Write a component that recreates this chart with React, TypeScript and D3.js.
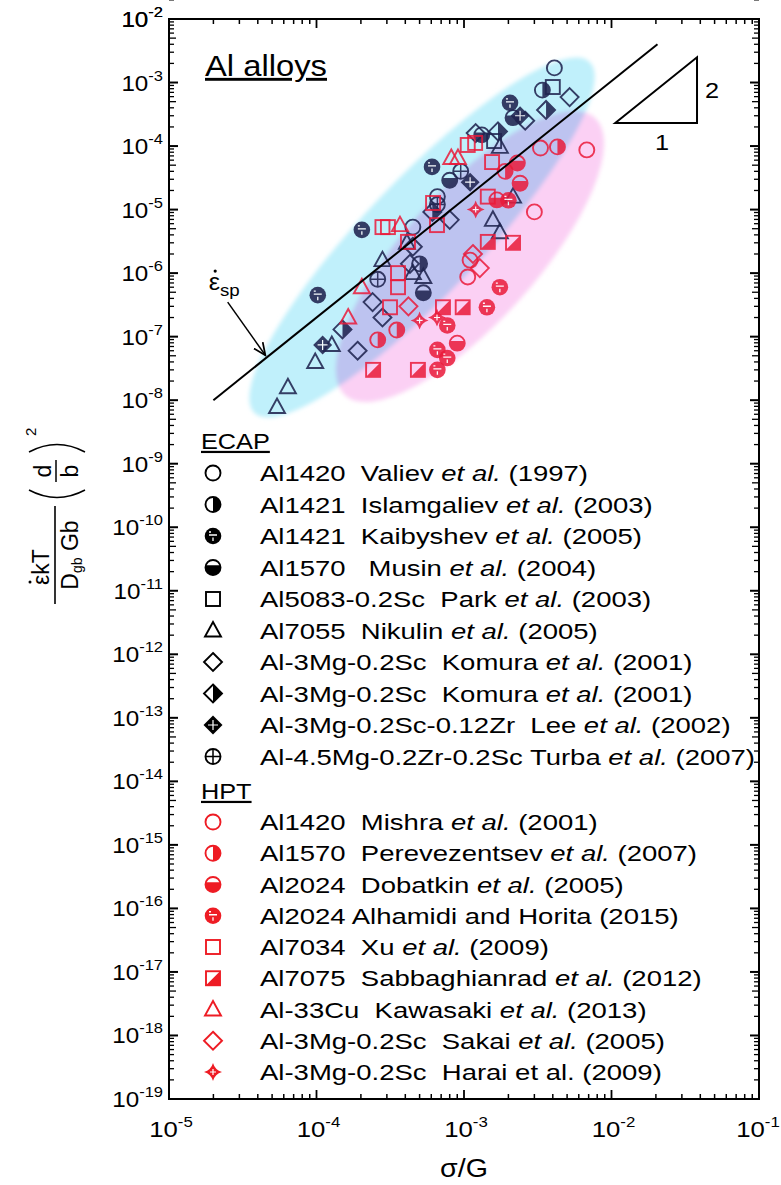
import React from 'react';
import * as d3 from 'd3';

// axis ranges
const xDomain = [1e-5, 1e-1];
const yDomain = [1e-19, 1e-2];
const xExponents = [-5, -4, -3, -2, -1];
const yExponents = d3.range(-19, -1);

// ECAP series (black)
const valiev = [[4.1e-3, 1.7e-3], [6.6e-4, 1.6e-5], [4.5e-4, 5.3e-6]];
const islamgaliev = [[3.4e-3, 7.6e-4], [5.0e-4, 1.4e-6]];
const kaibyshev = [[1.02e-4, 4.5e-7], [2.03e-4, 4.8e-6], [6.07e-4, 4.7e-5], [2.05e-3, 4.8e-4]];
const musin = [[8.0e-4, 2.9e-5], [1.32e-3, 1.5e-4], [2.15e-3, 2.8e-4], [5.3e-4, 4.9e-7]];
const park = [[4.0e-3, 8.5e-4], [1.6e-3, 1.2e-4]];
const nikulin = [[5.4e-5, 7.8e-9], [6.4e-5, 1.6e-8], [9.8e-5, 4.0e-8], [1.27e-4, 7.4e-8], [5.3e-4, 8.7e-7],
  [2.15e-3, 1.6e-5], [1.57e-3, 6.9e-6], [1.75e-3, 4.4e-6], [2.8e-4, 1.6e-6], [4.1e-4, 3.0e-6],
  [1.75e-3, 9.7e-5], [4.5e-4, 1.0e-6]];
const komura = [[5.2e-3, 5.9e-4], [1.9e-4, 6.0e-8], [2.8e-4, 2.0e-7], [2.4e-4, 3.5e-7], [4.3e-4, 1.4e-6],
  [4.5e-4, 2.6e-6], [8.0e-4, 6.9e-6], [1.2e-3, 1.6e-4], [2.6e-3, 2.5e-4]];
const komura2 = [[3.6e-3, 3.7e-4], [1.5e-4, 1.3e-7], [6.1e-4, 9.2e-6], [1.7e-3, 1.7e-4]];
const lee = [[1.1e-4, 7.4e-8], [1.1e-3, 2.7e-5], [2.4e-3, 3.0e-4]];
const turba = [[6.6e-4, 1.2e-5], [2.6e-4, 8.0e-7], [9.5e-4, 4.0e-5]];

// HPT series (red)
const mishra = [[6.8e-3, 8.7e-5], [3.0e-3, 9.2e-6], [3.3e-3, 9.3e-5], [1.1e-3, 1.6e-6], [1.06e-3, 8.7e-7]];
const perevezentsev = [[4.3e-3, 9.7e-5], [2.6e-4, 8.9e-8], [3.5e-4, 1.27e-7], [1.9e-3, 4.0e-5]];
const dobatkin = [[2.4e-3, 2.6e-5], [1.67e-3, 1.42e-5], [9.0e-4, 7.9e-8], [2.3e-3, 5.4e-5]];
const alhamidi = [[1.75e-3, 6.0e-7], [1.43e-3, 2.9e-7], [7.7e-4, 1.5e-7], [6.6e-4, 6.2e-8], [6.6e-4, 3.0e-8],
  [7.7e-4, 4.6e-8], [2.0e-3, 1.4e-5]];
const xu = [[1.55e-3, 5.6e-5], [3.05e-4, 5.3e-6], [6.56e-4, 5.7e-6], [4.17e-4, 3.1e-6], [3.57e-4, 1.0e-6],
  [3.57e-4, 6.0e-7], [3.15e-4, 2.9e-7], [1.19e-3, 1.12e-4], [1.06e-3, 1.04e-4], [6.17e-4, 1.27e-5],
  [2.8e-4, 5.3e-6], [1.45e-3, 1.6e-5]];
const sabbaghianrad = [[1.45e-3, 3.1e-6], [2.15e-3, 3.0e-6], [7.2e-4, 2.9e-7], [9.8e-4, 2.9e-7],
  [2.42e-4, 3.0e-8], [4.87e-4, 3.0e-8]];
const kawasaki = [[9.1e-4, 6.5e-5], [8.2e-4, 6.5e-5], [3.68e-4, 5.7e-6], [2.03e-4, 6.0e-7], [1.64e-4, 2.0e-7]];
const sakai = [[1.28e-3, 1.2e-6], [1.15e-3, 2.0e-6], [4.2e-4, 3.0e-7]];
const harai = [[6.56e-4, 2.0e-7], [5.0e-4, 1.8e-7], [1.2e-3, 1.0e-5]];

// legend text: [before italic, italic, after]
const ecapLabels = [
  ['Al1420  Valiev ', 'et al.', ' (1997)'],
  ['Al1421  Islamgaliev ', 'et al.', ' (2003)'],
  ['Al1421  Kaibyshev ', 'et al.', ' (2005)'],
  ['Al1570   Musin ', 'et al.', ' (2004)'],
  ['Al5083-0.2Sc  Park ', 'et al.', ' (2003)'],
  ['Al7055  Nikulin ', 'et al.', ' (2005)'],
  ['Al-3Mg-0.2Sc  Komura ', 'et al.', ' (2001)'],
  ['Al-3Mg-0.2Sc  Komura ', 'et al.', ' (2001)'],
  ['Al-3Mg-0.2Sc-0.12Zr  Lee ', 'et al.', ' (2002)'],
  ['Al-4.5Mg-0.2Zr-0.2Sc Turba ', 'et al.', ' (2007)'],
];
const hptLabels = [
  ['Al1420  Mishra ', 'et al.', ' (2001)'],
  ['Al1570  Perevezentsev ', 'et al.', ' (2007)'],
  ['Al2024  Dobatkin ', 'et al.', ' (2005)'],
  ['Al2024 Alhamidi and Horita (2015)', '', ''],
  ['Al7034  Xu ', 'et al.', ' (2009)'],
  ['Al7075  Sabbaghianrad ', 'et al.', ' (2012)'],
  ['Al-33Cu  Kawasaki ', 'et al.', ' (2013)'],
  ['Al-3Mg-0.2Sc  Sakai ', 'et al.', ' (2005)'],
  ['Al-3Mg-0.2Sc  Harai et al. (2009)', '', ''],
];
const ecapKinds = ['circle', 'halfR', 'ball', 'bottom', 'square', 'triangle', 'diamond', 'halfDiamond', 'crossDiamond', 'crossCircle'];
const hptKinds = ['circle', 'halfR', 'bottom', 'ball', 'square', 'diagSquare', 'triangle', 'diamond', 'star'];
const ecapData = [valiev, islamgaliev, kaibyshev, musin, park, nikulin, komura, komura2, lee, turba];
const hptData = [mishra, perevezentsev, dobatkin, alhamidi, xu, sabbaghianrad, kawasaki, sakai, harai];

// guide line, slope triangle and shaded regions (data units)
const spLine = [[2e-5, 1e-8], [2.05e-2, 4e-3]];
const slopeTri = [[1.06e-2, 2.3e-4], [3.8e-2, 2.5e-3], [3.8e-2, 2.3e-4]];
const cyanAxis = [[3.8e-5, 6.3e-9], [7.1e-3, 2.1e-3]];
const pinkAxis = [[1.56e-4, 1.2e-8], [7.7e-3, 2.8e-4]];
const arrowPts = [[2.5e-5, 3.5e-7], [4.5e-5, 5.1e-8]];

const BLACK = '#000';
const RED = '#ee1c24';
const FONT = 'Arial, "Liberation Sans", sans-serif';

function Marker({kind, cx, cy, color, opacity = 1}) {
  const r = 7.5, sw = 1.9, s = 7, d = 9;
  const common = {stroke: color, strokeWidth: sw, fill: 'none'};
  let el;
  if (kind === 'circle') {
    el = <circle cx={cx} cy={cy} r={r} {...common}/>;
  } else if (kind === 'halfR') {
    el = <g>
      <path d={`M${cx},${cy - r} A${r},${r} 0 0 1 ${cx},${cy + r} Z`} fill={color}/>
      <circle cx={cx} cy={cy} r={r} {...common}/>
    </g>;
  } else if (kind === 'ball') {
    el = <g>
      <circle cx={cx} cy={cy} r={r + 0.8} fill={color}/>
      <path d={`M${cx - 4},${cy - 1} L${cx + 4},${cy - 1} M${cx},${cy + 1.5} L${cx},${cy + 5} M${cx - 4},${cy - 4} L${cx - 2},${cy - 4}`}
            stroke="#fff" strokeWidth={1.3}/>
    </g>;
  } else if (kind === 'bottom') {
    const h = 0.3 * r, w = Math.sqrt(r * r - h * h);
    el = <g>
      <path d={`M${cx - w},${cy - h} A${r},${r} 0 1 0 ${cx + w},${cy - h} Z`} fill={color}/>
      <circle cx={cx} cy={cy} r={r} {...common}/>
    </g>;
  } else if (kind === 'square') {
    el = <rect x={cx - s} y={cy - s} width={2 * s} height={2 * s} {...common}/>;
  } else if (kind === 'diagSquare') {
    el = <g>
      <path d={`M${cx + s},${cy - s} L${cx + s},${cy + s} L${cx - s},${cy + s} Z`} fill={color}/>
      <rect x={cx - s} y={cy - s} width={2 * s} height={2 * s} {...common}/>
    </g>;
  } else if (kind === 'triangle') {
    el = <path d={`M${cx},${cy - 8.5} L${cx + 8},${cy + 6} L${cx - 8},${cy + 6} Z`} {...common}/>;
  } else if (kind === 'diamond') {
    el = <path d={`M${cx},${cy - d} L${cx + d},${cy} L${cx},${cy + d} L${cx - d},${cy} Z`} {...common}/>;
  } else if (kind === 'halfDiamond') {
    el = <g>
      <path d={`M${cx},${cy - d} L${cx + d},${cy} L${cx},${cy + d} Z`} fill={color}/>
      <path d={`M${cx},${cy - d} L${cx + d},${cy} L${cx},${cy + d} L${cx - d},${cy} Z`} {...common}/>
    </g>;
  } else if (kind === 'crossDiamond') {
    el = <g>
      <path d={`M${cx},${cy - d - 0.5} L${cx + d + 0.5},${cy} L${cx},${cy + d + 0.5} L${cx - d - 0.5},${cy} Z`} fill={color}/>
      <path d={`M${cx - 5},${cy} L${cx + 5},${cy} M${cx},${cy - 5} L${cx},${cy + 5}`} stroke="#fff" strokeWidth={1.2}/>
    </g>;
  } else if (kind === 'crossCircle') {
    el = <g>
      <circle cx={cx} cy={cy} r={r} {...common}/>
      <path d={`M${cx - r},${cy} L${cx + r},${cy} M${cx},${cy - r} L${cx},${cy + r}`} stroke={color} strokeWidth={1.5}/>
    </g>;
  } else {
    const q = 0.22 * d;
    el = <g>
      <path d={`M${cx},${cy - d} Q${cx + q},${cy - q} ${cx + d},${cy} Q${cx + q},${cy + q} ${cx},${cy + d} Q${cx - q},${cy + q} ${cx - d},${cy} Q${cx - q},${cy - q} ${cx},${cy - d} Z`}
            fill={color}/>
      <path d={`M${cx - 3},${cy} L${cx + 3},${cy} M${cx},${cy - 3} L${cx},${cy + 3}`} stroke="#fff" strokeWidth={1.2}/>
    </g>;
  }
  return <g opacity={opacity}>{el}</g>;
}

// stretched text (the reference fonts are a bit wider than Arial)
function T({x, y, size, sx = 1.15, anchor = 'start', children, ...rest}) {
  return <text transform={`translate(${x},${y}) scale(${sx},1)`} fontSize={size} textAnchor={anchor}
               style={{whiteSpace: 'pre'}} {...rest}>{children}</text>;
}

function ellipseFrom(axis, ry, x, y) {
  const [a, b] = axis.map(p => [x(p[0]), y(p[1])]);
  const cx = (a[0] + b[0]) / 2, cy = (a[1] + b[1]) / 2;
  const rx = Math.hypot(b[0] - a[0], b[1] - a[1]) / 2;
  const ang = Math.atan2(b[1] - a[1], b[0] - a[0]) * 180 / Math.PI;
  return {cx, cy, rx, ry, ang};
}

export default function App() {
  const left = 169, right = 759, top = 19, bottom = 1099;
  const x = d3.scaleLog().domain(xDomain).range([left, right]);
  const y = d3.scaleLog().domain(yDomain).range([bottom, top]);

  const xMinor = [];
  xExponents.slice(0, -1).forEach(e => d3.range(2, 10).forEach(k => xMinor.push(k * Math.pow(10, e))));
  const yMinor = [];
  yExponents.forEach(e => d3.range(2, 10).forEach(k => yMinor.push(k * Math.pow(10, e))));
  const yMajor = yExponents.concat([-2]);

  const cyan = ellipseFrom(cyanAxis, 58, x, y);
  const pink = ellipseFrom(pinkAxis, 66, x, y);
  const line = d3.line().x(d => x(d[0])).y(d => y(d[1]));

  const ecapRowY = i => 473 + i * 31.5;
  const hptRowY = i => 822 + i * 31.25;
  const epsX = x(arrowPts[0][0]) - 19, epsY = y(arrowPts[0][1]) - 12;

  return (
    <div style={{position: 'absolute', left: 0, top: 0}}>
      <svg width={781} height={1185} style={{display: 'block', background: '#fff'}} fontFamily={FONT}>
        <defs>
          <filter id="soft" x="-10%" y="-10%" width="120%" height="120%">
            <feGaussianBlur stdDeviation="2"/>
          </filter>
          <marker id="arrow" viewBox="0 0 10 10" refX="9" refY="5" markerWidth="9" markerHeight="9" orient="auto">
            <path d="M0,1 L9,5 L0,9" fill="none" stroke="#000" strokeWidth="1.3"/>
          </marker>
        </defs>

        {/* shaded regions */}
        <g filter="url(#soft)">
          <ellipse cx={cyan.cx} cy={cyan.cy} rx={cyan.rx} ry={cyan.ry}
                   transform={`rotate(${cyan.ang} ${cyan.cx} ${cyan.cy})`} fill="#c0f0fb"/>
          <ellipse cx={pink.cx} cy={pink.cy} rx={pink.rx} ry={pink.ry}
                   transform={`rotate(${pink.ang} ${pink.cx} ${pink.cy})`} fill="#fbd0f4"
                   style={{mixBlendMode: 'multiply'}}/>
        </g>

        {/* data */}
        {ecapData.map((pts, i) => pts.map((p, j) =>
          <Marker key={`e${i}-${j}`} kind={ecapKinds[i]} cx={x(p[0])} cy={y(p[1])} color="#202450" opacity={0.88}/>))}
        {hptData.map((pts, i) => pts.map((p, j) =>
          <Marker key={`h${i}-${j}`} kind={hptKinds[i]} cx={x(p[0])} cy={y(p[1])} color="#ea1a3a" opacity={0.85}/>))}

        {/* superplastic line and slope triangle */}
        <path d={line(spLine)} stroke="#000" strokeWidth={2} fill="none"/>
        <path d={line(slopeTri) + 'Z'} stroke="#000" strokeWidth={2} fill="none"/>
        <T x={x(slopeTri[2][0]) + 8} y={(y(slopeTri[1][1]) + y(slopeTri[2][1])) / 2 + 8} size={22}>2</T>
        <T x={(x(slopeTri[0][0]) + x(slopeTri[2][0])) / 2 + 6} y={y(slopeTri[2][1]) + 27} size={22} anchor="middle">1</T>
        <path d={line(arrowPts)} stroke="#000" strokeWidth={1.5} fill="none" markerEnd="url(#arrow)"/>
        <T x={epsX} y={epsY} size={23} sx={1.1}>
          {'\u03B5'}<tspan fontSize={17} dy={6}>sp</tspan>
        </T>
        <circle cx={epsX + 6.5} cy={epsY - 19} r={1.6} fill="#000"/>

        <T x={205} y={76} size={29} sx={1.13} textDecoration="underline">Al alloys</T>

        {/* axes frame and ticks */}
        <rect x={left} y={top} width={right - left} height={bottom - top} fill="none" stroke="#000" strokeWidth={2}/>
        {xExponents.map(e => {
          const px = x(Math.pow(10, e));
          return <g key={`xm${e}`}>
            <line x1={px} x2={px} y1={bottom} y2={bottom - 9} stroke="#000" strokeWidth={1.8}/>
            <line x1={px} x2={px} y1={top} y2={top + 9} stroke="#000" strokeWidth={1.8}/>
            <T x={Math.min(px + 2, 758)} y={1137} size={23} sx={1.12} anchor="middle">
              10<tspan fontSize={15} dy={-10}>{e}</tspan>
            </T>
          </g>;
        })}
        {xMinor.map((v, i) => {
          const px = x(v);
          return <g key={`xn${i}`}>
            <line x1={px} x2={px} y1={bottom} y2={bottom - 5} stroke="#000" strokeWidth={1.5}/>
            <line x1={px} x2={px} y1={top} y2={top + 5} stroke="#000" strokeWidth={1.5}/>
          </g>;
        })}
        {yMajor.map(e => {
          const py = y(Math.pow(10, e));
          return <g key={`ym${e}`}>
            <line x1={left} x2={left + 9} y1={py} y2={py} stroke="#000" strokeWidth={2}/>
            <line x1={right} x2={right - 9} y1={py} y2={py} stroke="#000" strokeWidth={2}/>
            <T x={163} y={py + 8} size={22} sx={1.1} anchor="end">
              10<tspan fontSize={15} dy={-10}>{e}</tspan>
            </T>
          </g>;
        })}
        {yMinor.map((v, i) => {
          const py = y(v);
          const len = v / Math.pow(10, Math.floor(Math.log10(v) + 1e-9)) === 5 ? 7 : 5;
          return <g key={`yn${i}`}>
            <line x1={left} x2={left + len} y1={py} y2={py} stroke="#000" strokeWidth={1.3}/>
            <line x1={right} x2={right - len} y1={py} y2={py} stroke="#000" strokeWidth={1.3}/>
          </g>;
        })}

        {/* axis titles */}
        <T x={464} y={1177} size={26} sx={1.1} anchor="middle">{'\u03C3/G'}</T>
        <g transform="translate(57,520) rotate(-90)" fontSize={23}>
          <text x={-47} y={-8} textAnchor="middle">{'\u03B5kT'}</text>
          <circle cx={-62} cy={-27} r={1.5} fill="#000"/>
          <line x1={-84} x2={14} y1={-2} y2={-2} stroke="#000" strokeWidth={1.6}/>
          <text x={-35} y={21} textAnchor="middle">D<tspan fontSize={14} dy={4}>gb</tspan><tspan dy={-4}> Gb</tspan></text>
          <path d="M30,-28 Q15,0 30,28" fill="none" stroke="#000" strokeWidth={1.5}/>
          <path d="M68,-28 Q83,0 68,28" fill="none" stroke="#000" strokeWidth={1.5}/>
          <text x={49} y={-6} textAnchor="middle">d</text>
          <line x1={38} x2={60} y1={-1} y2={-1} stroke="#000" strokeWidth={1.5}/>
          <text x={49} y={21} textAnchor="middle">b</text>
          <text x={84} y={-21} fontSize={15}>2</text>
        </g>

        {/* legend */}
        <T x={201} y={449} size={22} textDecoration="underline">ECAP</T>
        {ecapLabels.map((lab, i) => <g key={`le${i}`}>
          <Marker kind={ecapKinds[i]} cx={213} cy={ecapRowY(i)} color={BLACK}/>
          <T x={260} y={ecapRowY(i) + 8} size={22} sx={1.25}>
            {lab[0]}<tspan fontStyle="italic">{lab[1]}</tspan>{lab[2]}
          </T>
        </g>)}
        <T x={201} y={799} size={22} textDecoration="underline">HPT</T>
        {hptLabels.map((lab, i) => <g key={`lh${i}`}>
          <Marker kind={hptKinds[i]} cx={213} cy={hptRowY(i)} color={RED}/>
          <T x={260} y={hptRowY(i) + 8} size={22} sx={1.25}>
            {lab[0]}<tspan fontStyle="italic">{lab[1]}</tspan>{lab[2]}
          </T>
        </g>)}
      </svg>
    </div>
  );
}
